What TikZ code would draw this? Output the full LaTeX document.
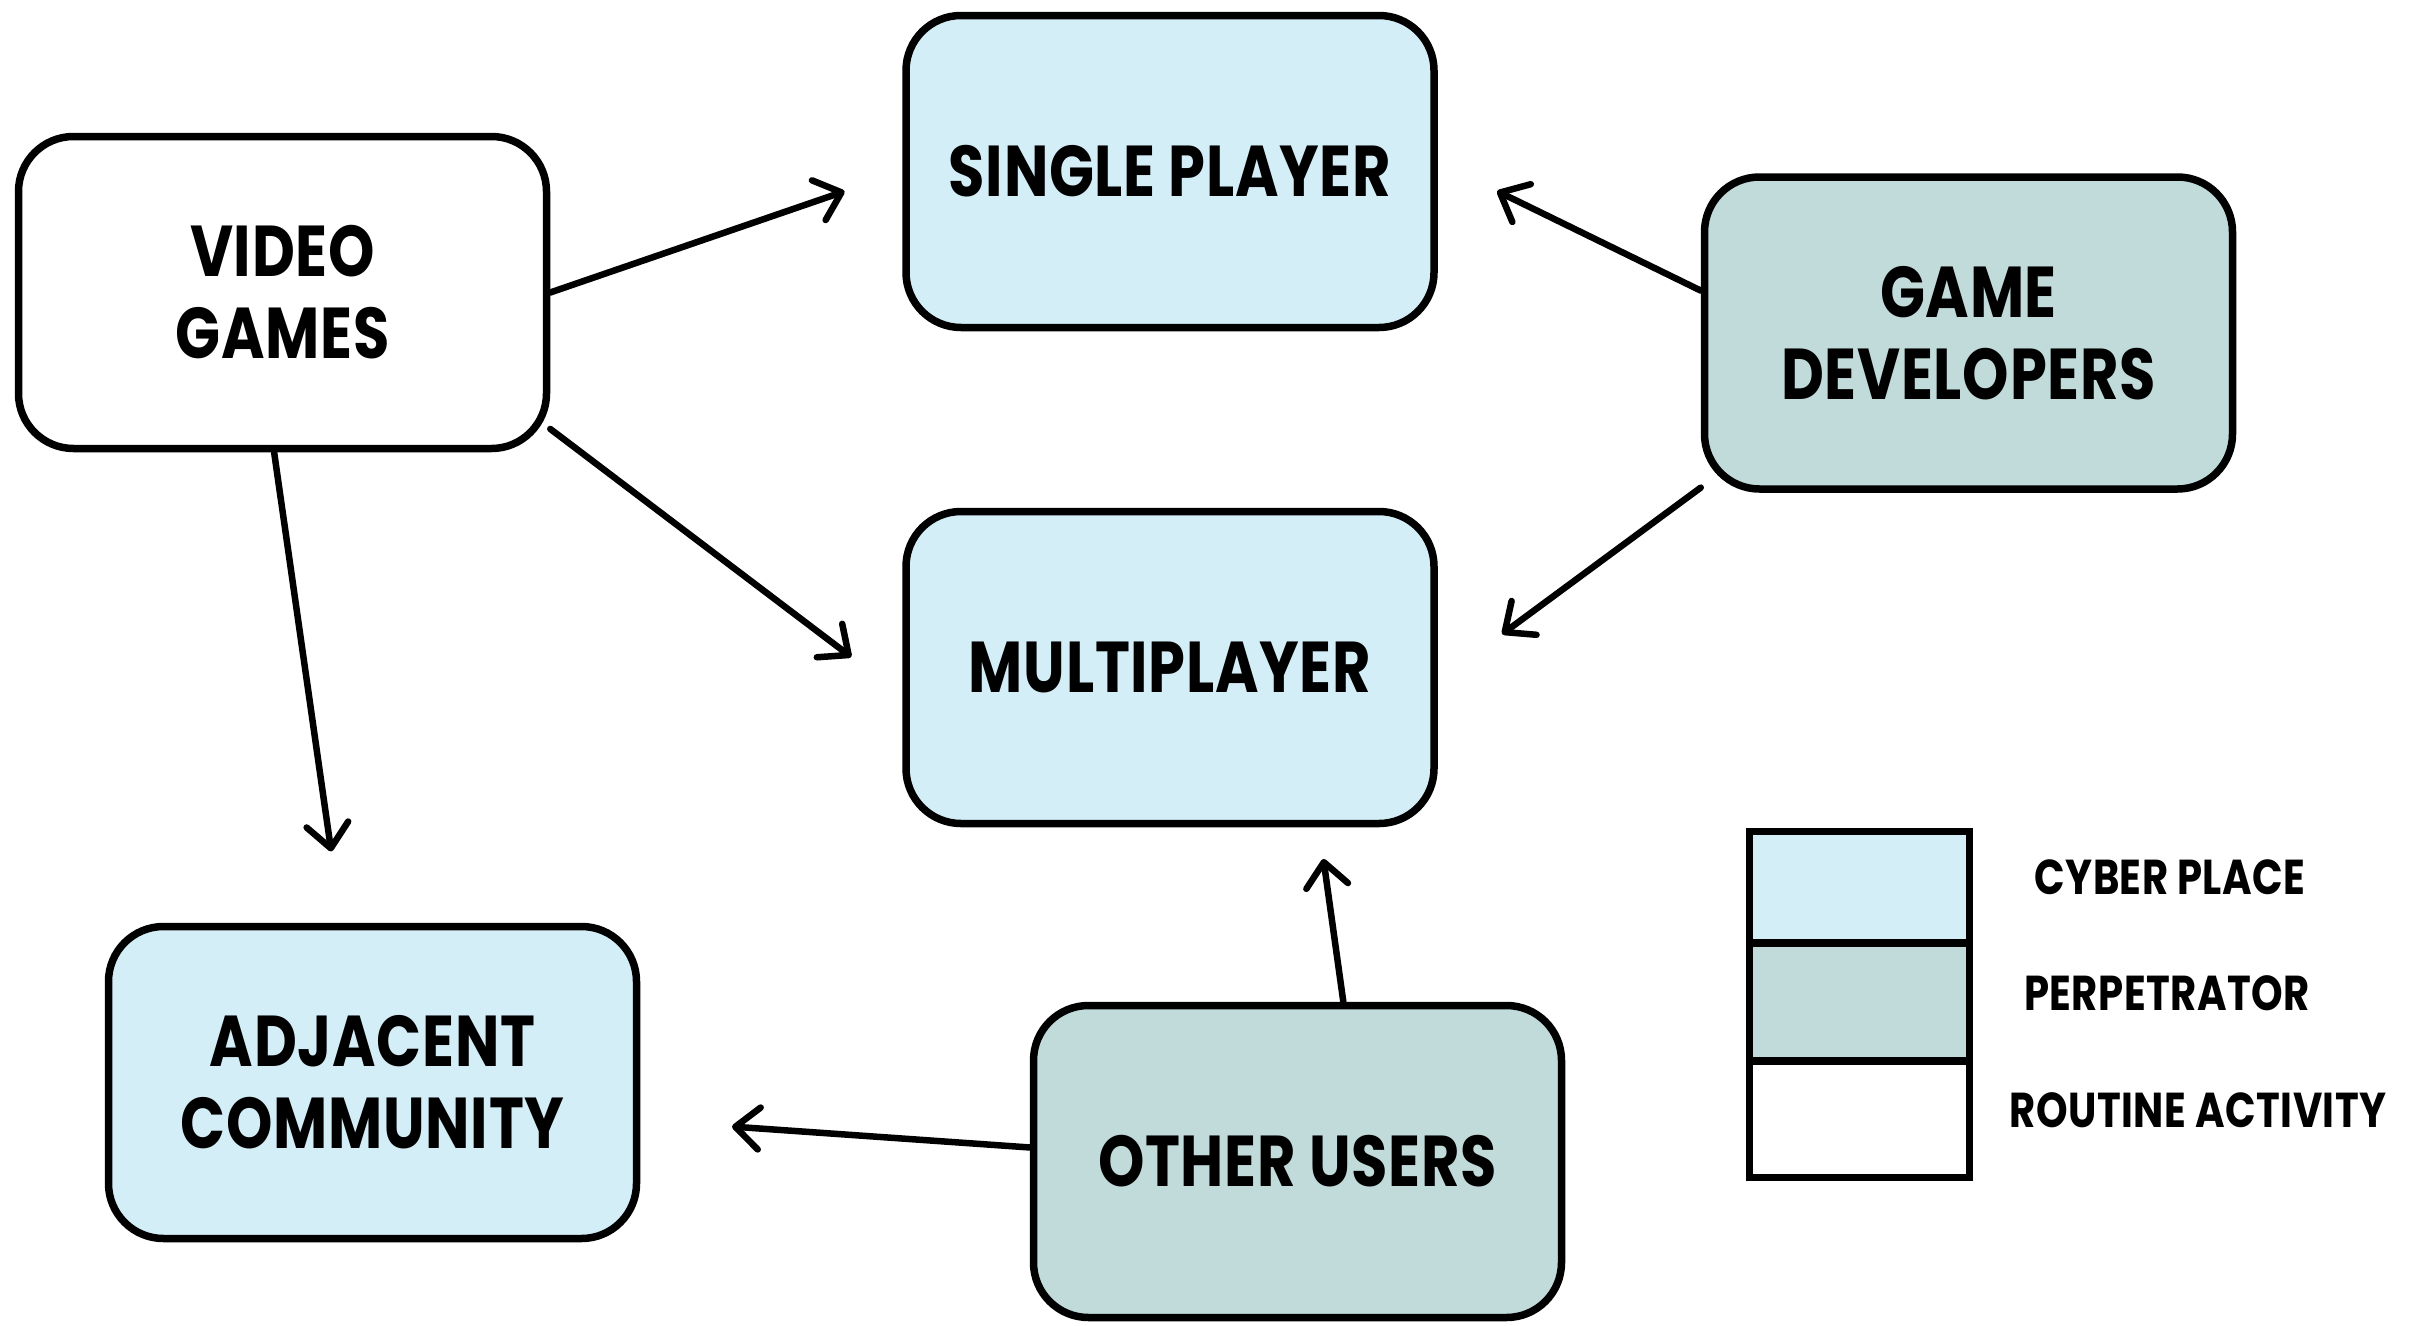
\documentclass[tikz,border=0pt]{standalone}
\usepackage{fontspec}
\newfontfamily\labelfont{Poppins}[FakeStretch=0.82,LetterSpace=1.0]
\usetikzlibrary{arrows.meta,calc}
\definecolor{cyberfill}{RGB}{212,238,248}
\definecolor{perpfill}{RGB}{192,219,218}
\begin{document}
\begin{tikzpicture}[x=1pt,y=-1pt,
  box/.style={draw=black,line width=7.5pt,rounded corners=55pt,
    minimum width=528pt,minimum height=312pt,inner sep=0pt,align=center,
    font=\labelfont\bfseries\fontsize{72}{82}\selectfont},
  cyber/.style={box,fill=cyberfill},
  perp/.style={box,fill=perpfill},
  routine/.style={box,fill=white},
  band/.style={draw=black,line width=7.5pt,minimum width=220pt,inner sep=0pt,outer sep=0pt},
  legtext/.style={font=\labelfont\bfseries\fontsize{49}{56}\selectfont,inner sep=0pt},
  link/.style={line width=6.5pt,line cap=round,
    -{Straight Barb[length=24pt,width=42pt,line width=6.5pt,round]}}]
\useasboundingbox (0,0) rectangle (2417,1325);

% activity, places and actors
\node[routine] (vg) at (282.5,292.5) {VIDEO\\GAMES};
\node[cyber]   (sp) at (1170,171.5) {SINGLE PLAYER};
\node[perp]    (gd) at (1968.5,333) {GAME\\DEVELOPERS};
\node[cyber]   (mp) at (1170,667.5) {MULTIPLAYER};
\node[cyber]   (ac) at (372.5,1082.5) {ADJACENT\\COMMUNITY};
\node[perp]    (ou) at (1297.5,1161.5) {OTHER USERS};

% connectors
\draw[link,shorten >=61pt] (vg.east) -- (sp.west);
\draw[link,shorten >=64pt] (vg.-27) -- (mp.186);
\draw[link,shorten >=72pt] (vg.-93) -- (ac.101);
\draw[link,shorten >=66pt] (gd.171) -- (sp.2);
\draw[link,shorten >=80pt] (gd.210) -- (mp.-3);
\draw[link,shorten >=32pt] (ou.74) -- (mp.-47);
\draw[link,shorten >=92pt] (ou.177) -- (ac.-8);

% legend
\node[band,fill=cyberfill,minimum height=111.5pt] (lg1) at (1859.5,887.25) {};
\node[band,fill=perpfill,minimum height=118pt]    (lg2) at (1859.5,1002) {};
\node[band,fill=white,minimum height=116.5pt]     (lg3) at (1859.5,1119.25) {};
\node[legtext] (lt1) at (2170,877) {CYBER PLACE};
\node[legtext] (lt2) at (2167,993) {PERPETRATOR};
\node[legtext] (lt3) at (2198,1110) {ROUTINE ACTIVITY};
\end{tikzpicture}
\end{document}
